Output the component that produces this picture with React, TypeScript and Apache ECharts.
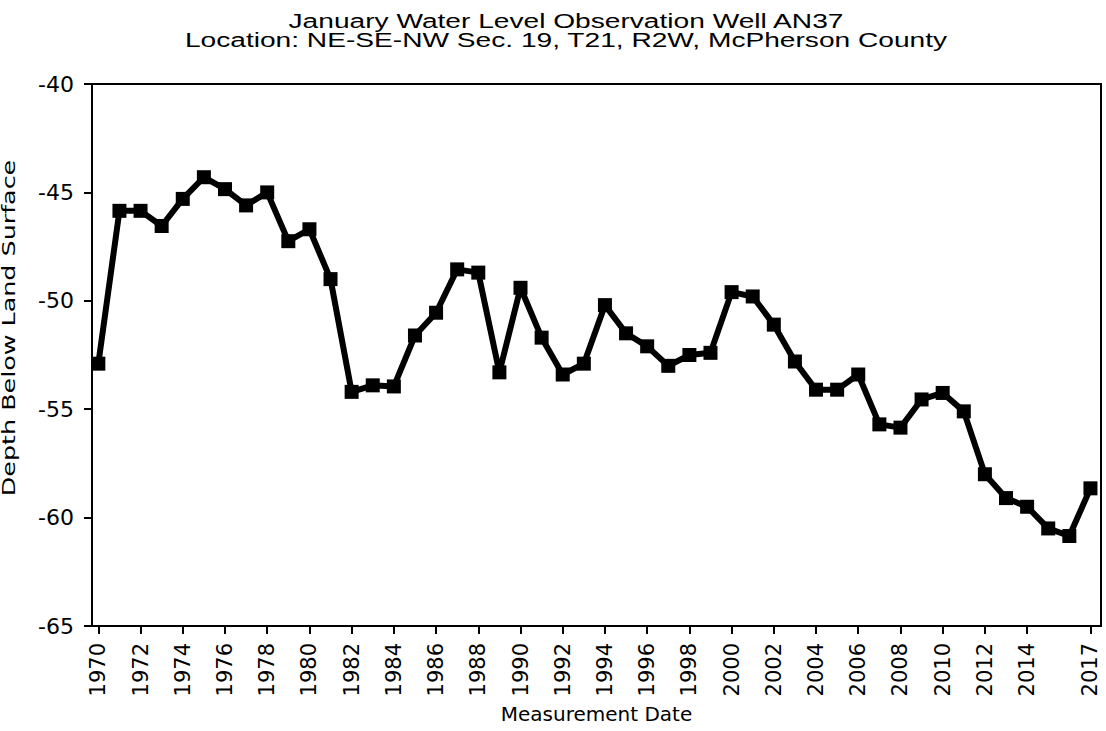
import React, { useEffect, useRef } from "react";
import * as echarts from "echarts";

const titleLine1 = "January Water Level Observation Well AN37";
const titleLine2 = "Location: NE-SE-NW Sec. 19, T21, R2W, McPherson County";
const yAxisTitle = "Depth Below Land Surface";
const xAxisTitle = "Measurement Date";

const years = [
  1970, 1971, 1972, 1973, 1974, 1975, 1976, 1977, 1978, 1979,
  1980, 1981, 1982, 1983, 1984, 1985, 1986, 1987, 1988, 1989,
  1990, 1991, 1992, 1993, 1994, 1995, 1996, 1997, 1998, 1999,
  2000, 2001, 2002, 2003, 2004, 2005, 2006, 2007, 2008, 2009,
  2010, 2011, 2012, 2013, 2014, 2015, 2016, 2017,
];

const depths = [
  -52.9, -45.85, -45.85, -46.55, -45.3, -44.3, -44.85, -45.6, -45.0, -47.25,
  -46.7, -49.0, -54.2, -53.9, -53.95, -51.6, -50.55, -48.55, -48.7, -53.3,
  -49.4, -51.7, -53.4, -52.9, -50.2, -51.5, -52.1, -53.0, -52.5, -52.4,
  -49.6, -49.8, -51.1, -52.8, -54.1, -54.1, -53.4, -55.7, -55.85, -54.55,
  -54.25, -55.1, -58.0, -59.1, -59.5, -60.5, -60.85, -58.65,
];

const xTickYears = [
  1970, 1972, 1974, 1976, 1978, 1980, 1982, 1984, 1986, 1988, 1990, 1992,
  1994, 1996, 1998, 2000, 2002, 2004, 2006, 2008, 2010, 2012, 2014, 2017,
];

export default function App() {
  const ref = useRef<HTMLDivElement>(null);

  useEffect(() => {
    if (!ref.current) return;
    const chart = echarts.init(ref.current, null, { renderer: "svg" });
    const data = years.map((y, i) => [y, depths[i]]);
    chart.setOption({
      animation: false,
      backgroundColor: "#ffffff",
      grid: {
        left: 92,
        right: 5,
        top: 84,
        bottom: 105,
        show: true,
        borderColor: "#000",
        borderWidth: 2,
        backgroundColor: "transparent",
      },
      graphic: [
        {
          type: "text",
          x: 566,
          y: 20.5,
          scaleX: 1.34,
          style: {
            text: titleLine1,
            x: 0,
            y: 0,
            fill: "#000",
            font: "21px 'Liberation Sans', Arial, sans-serif",
            textAlign: "center",
            textVerticalAlign: "middle",
          },
        },
        {
          type: "text",
          x: 566,
          y: 39.5,
          scaleX: 1.34,
          style: {
            text: titleLine2,
            x: 0,
            y: 0,
            fill: "#000",
            font: "21px 'Liberation Sans', Arial, sans-serif",
            textAlign: "center",
            textVerticalAlign: "middle",
          },
        },
        {
          type: "text",
          x: 9,
          y: 328,
          rotation: Math.PI / 2,
          scaleX: 1.41,
          style: {
            text: yAxisTitle,
            x: 0,
            y: 0,
            fill: "#000",
            font: "18px 'DejaVu Sans', sans-serif",
            textAlign: "center",
            textVerticalAlign: "middle",
          },
        },
      ],
      xAxis: {
        type: "value",
        min: 1969.7,
        max: 2017.5,
        name: xAxisTitle,
        nameLocation: "middle",
        nameGap: 78,
        nameTextStyle: {
          color: "#000",
          fontFamily: "'DejaVu Sans', sans-serif",
          fontSize: 20,
        },
        splitLine: { show: false },
        axisLine: { show: true, lineStyle: { color: "#000", width: 2 } },
        axisTick: {
          show: true,
          length: 8,
          lineStyle: { color: "#000", width: 2 },
          customValues: xTickYears,
        },
        axisLabel: {
          rotate: 90,
          margin: 17,
          color: "#000",
          fontFamily: "'DejaVu Sans', sans-serif",
          fontSize: 21,
          customValues: xTickYears,
          formatter: (v: number) => String(Math.round(v)),
        },
      },
      yAxis: {
        type: "value",
        min: -65,
        max: -40,
        interval: 5,
        splitLine: { show: false },
        axisLine: { show: true, lineStyle: { color: "#000", width: 2 } },
        axisTick: { show: true, length: 8, lineStyle: { color: "#000", width: 2 } },
        axisLabel: {
          margin: 18,
          color: "#000",
          fontFamily: "'DejaVu Sans', sans-serif",
          fontSize: 22,
        },
      },
      series: [
        {
          type: "line",
          data,
          symbol: "rect",
          symbolSize: 14,
          showSymbol: true,
          itemStyle: { color: "#000" },
          lineStyle: { color: "#000", width: 6 },
          z: 3,
        },
      ],
    });
    return () => chart.dispose();
  }, []);

  return (
    <div
      ref={ref}
      style={{ position: "absolute", left: 0, top: 0, width: 1106, height: 731 }}
    />
  );
}
